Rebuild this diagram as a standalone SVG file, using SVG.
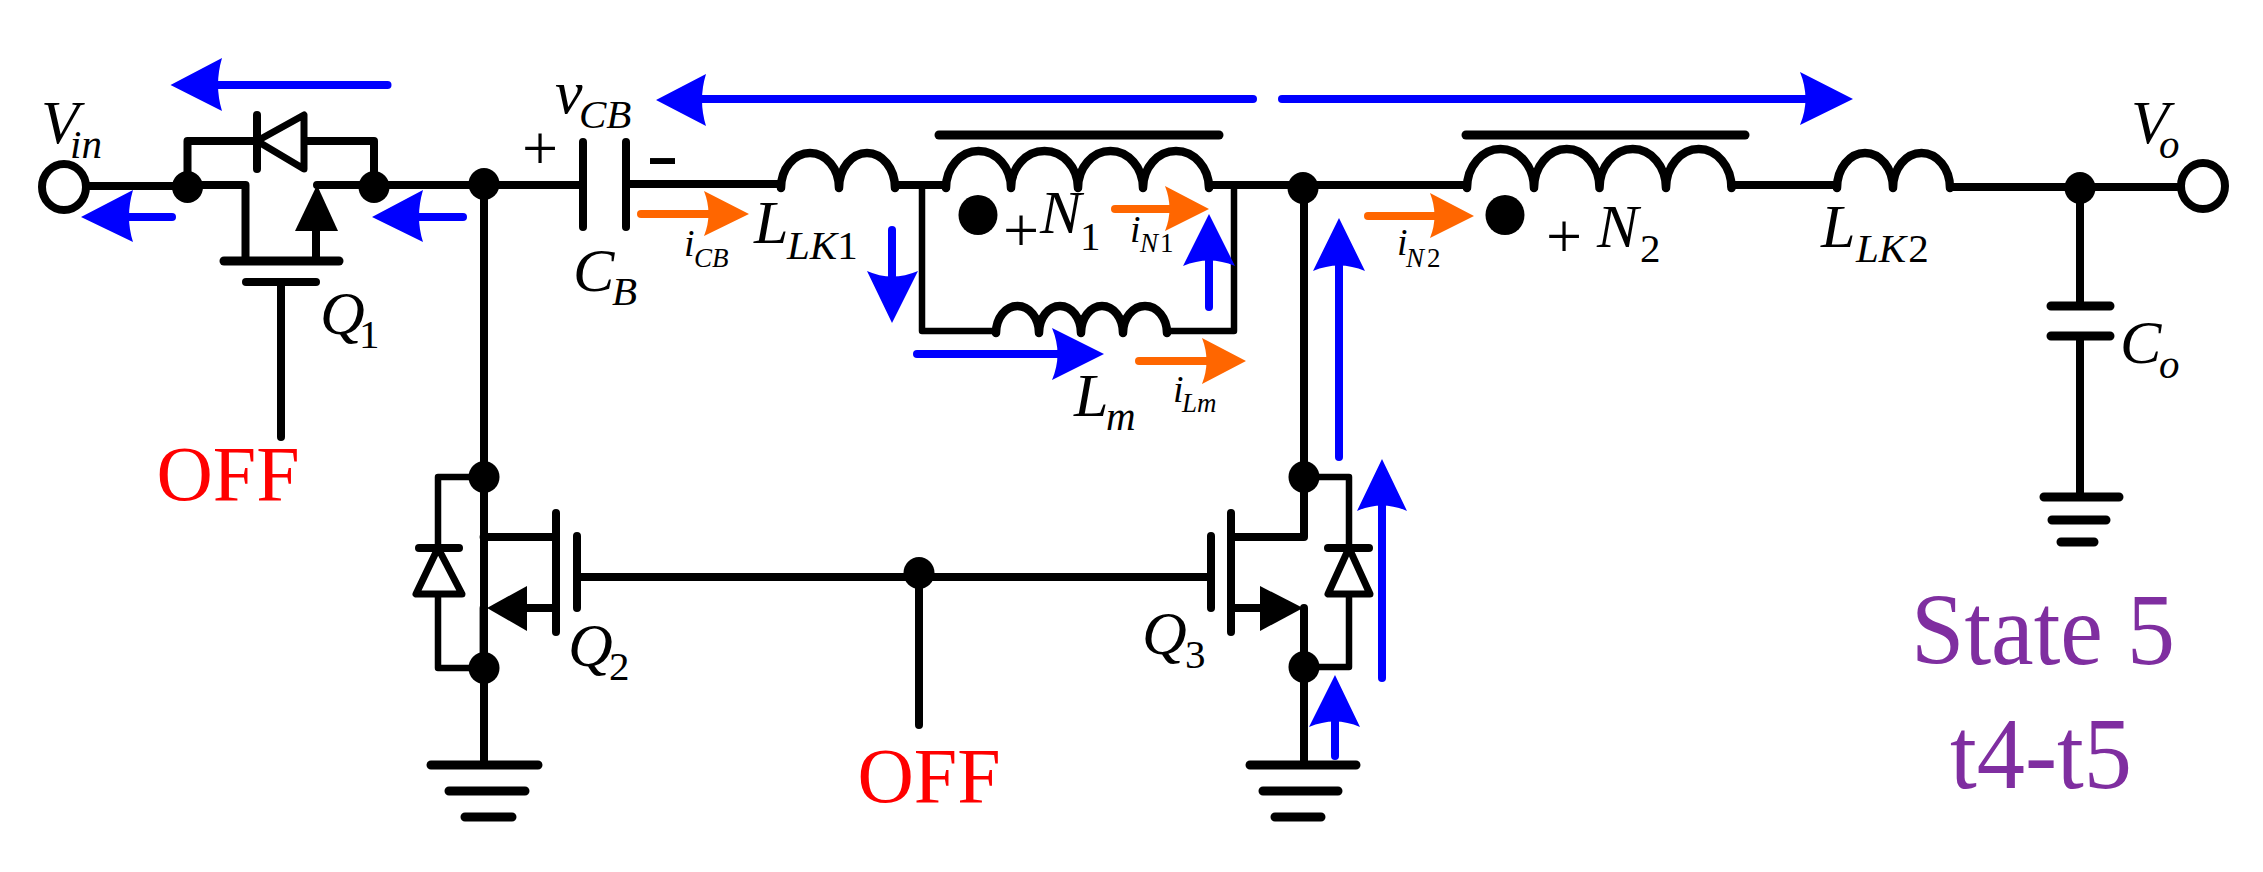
<svg xmlns="http://www.w3.org/2000/svg" width="2263" height="872" viewBox="0 0 2263 872">
<style>
text{font-family:"Liberation Serif","Times New Roman",serif;fill:#000}
.w{fill:none;stroke:#000;stroke-width:8;stroke-linecap:round;stroke-linejoin:round}
.t{fill:none;stroke:#000;stroke-width:6.500;stroke-linecap:round;stroke-linejoin:round}
.b{fill:none;stroke:#000;stroke-width:9;stroke-linecap:round}
.c{fill:none;stroke:#000;stroke-width:8.500;stroke-linecap:round;stroke-linejoin:round}
.d{fill:#fff;stroke:#000;stroke-width:7;stroke-linejoin:round}
.k{fill:#000}
.port{fill:#fff;stroke:#000;stroke-width:8}
.bl{stroke:#00f;stroke-width:8;stroke-linecap:round;fill:none}
.or{stroke:#f60;stroke-width:8;stroke-linecap:round;fill:none}
.bh{fill:#00f}.oh{fill:#f60}
.m{font-size:62px;font-style:italic}
.s{font-size:41px;font-style:italic}
.n{font-size:41px;font-style:normal}
.i{font-size:38px;font-style:italic}
.si{font-size:27px;font-style:italic}
.ni{font-size:27px;font-style:normal}
.p{font-size:64px}
.off{font-size:78px;fill:#f00}
text.st{font-size:101px;fill:#7f2ea0}
</style>
<g id="connectors">
<path class="w" d="M88 186H187.500M187.500 185H245.500V261M374 185H317M374 185H484H583M484 184V668V765"/>
<path class="w" d="M187.500 187V141H257M304 141H374V187"/>
<path class="w" d="M316 231V261M281 282V437"/>
<path class="w" d="M626 184H781M895 185H946M1209 185H1303M1467 185H1303M1731 185H1837M1950 187H2177"/>
<path class="t" d="M922 185V331H996M1167 331H1234V185"/>
<path class="w" d="M483.600 537H556M483.600 608V668"/>
<path class="t" d="M483.600 477H438V668H483.600"/>
<path class="w" d="M577 577H1211M919 573V725"/>
<path class="w" d="M1304 188V537H1231M1304 608V765"/>
<path class="t" d="M1304 477H1349V667H1304"/>
<path class="w" d="M1231 608H1262M527 608H556"/>
<path class="w" d="M2080 188V306M2080 336V497"/>
</g>
<g id="Vin"><ellipse class="port" cx="64" cy="187" rx="22" ry="23"/><text class="m" x="41" y="143">V<tspan class="s" x="70" y="158">in</tspan></text></g>
<g id="Vo"><ellipse class="port" cx="2203" cy="186" rx="22" ry="23"/><text class="m" x="2131" y="143">V<tspan class="s" x="2159" y="158">o</tspan></text></g>
<g id="junctions">
<ellipse class="k" cx="187.500" cy="187" rx="15.500" ry="16"/>
<ellipse class="k" cx="374" cy="187" rx="15.500" ry="16"/>
<ellipse class="k" cx="484" cy="184" rx="15.500" ry="16"/>
<ellipse class="k" cx="484" cy="477" rx="15.500" ry="16"/>
<ellipse class="k" cx="484" cy="668" rx="15.500" ry="16"/>
<ellipse class="k" cx="919" cy="573" rx="15.500" ry="16"/>
<ellipse class="k" cx="1303" cy="188" rx="15.500" ry="16"/>
<ellipse class="k" cx="1304" cy="477" rx="15.500" ry="16"/>
<ellipse class="k" cx="1304" cy="667" rx="15.500" ry="16"/>
<ellipse class="k" cx="2080" cy="188" rx="15.500" ry="16"/>
</g>
<g id="Q1">
<path class="d" d="M304 115V169L257 141Z"/><path class="w" d="M257 115V169"/>
<path class="k" d="M317 185L338 231H295Z"/>
<path class="b" d="M224 261H339"/><path class="w" d="M246 282H316"/>
<text class="m" x="320" y="334">Q<tspan class="n" x="359" y="348">1</tspan></text>
</g>
<g id="CB">
<path class="w" d="M583 142V227M626 142V227"/>
<text class="p" x="540" y="170" text-anchor="middle">+</text>
<text x="646.500" y="178" font-size="70" font-weight="bold" textLength="32" lengthAdjust="spacingAndGlyphs">-</text>
<text class="m" x="555" y="113">v<tspan class="s" x="579" y="128">CB</tspan></text>
<text class="m" x="573" y="291">C<tspan class="s" x="612" y="305">B</tspan></text>
</g>
<g id="LK1">
<path class="c" d="M781 188A29 35 0 0 1 839 188A28 35 0 0 1 895 188"/>
<text class="m" x="754" y="243">L<tspan class="s" x="787" y="259">LK</tspan><tspan class="n">1</tspan></text>
</g>
<g id="N1">
<path class="b" d="M939 135H1219"/>
<path class="c" d="M946 188A32.500 37 0 0 1 1011 188A33.500 37 0 0 1 1078 188A32.500 37 0 0 1 1143 188A33 37 0 0 1 1209 188"/>
<ellipse class="k" cx="978" cy="215" rx="19.500" ry="20"/>
<text class="p" x="1021" y="252" text-anchor="middle">+</text>
<text class="m" x="1040" y="233">N<tspan class="n" x="1080" y="250">1</tspan></text>
</g>
<g id="Lm">
<path class="c" d="M996 333A21.500 27 0 0 1 1039 333A21 27 0 0 1 1081 333A21 27 0 0 1 1123 333A22 27 0 0 1 1167 333"/>
<text class="m" x="1074" y="416">L<tspan class="s" x="1106" y="430">m</tspan></text>
</g>
<g id="N2">
<path class="b" d="M1466 135H1745"/>
<path class="c" d="M1467 188A33.500 39 0 0 1 1534 188A32.750 39 0 0 1 1599.500 188A33.250 39 0 0 1 1666 188A32.750 39 0 0 1 1731.500 188"/>
<ellipse class="k" cx="1505" cy="215" rx="19.500" ry="20"/>
<text class="p" x="1564" y="258" text-anchor="middle">+</text>
<text class="m" x="1597" y="247">N<tspan class="n" x="1640" y="262">2</tspan></text>
</g>
<g id="LK2">
<path class="c" d="M1837 188A28 35 0 0 1 1893 188A28.500 35 0 0 1 1950 188"/>
<text class="m" x="1821" y="247">L<tspan class="s" x="1856" y="262">LK</tspan><tspan class="n" dx="2">2</tspan></text>
</g>
<g id="Co">
<path class="b" d="M2051 306H2110M2051 336H2110"/>
<text class="m" x="2120" y="363">C<tspan class="s" x="2159" y="378">o</tspan></text>
</g>
<g id="GND-Co"><path class="b" d="M2044 497H2119M2052 520H2106M2061 542H2094"/></g>
<g id="Q2">
<path class="d" d="M416 594H462L438 548Z"/><path class="w" d="M419 548H459"/>
<path class="k" d="M487 608L527 586V631Z"/>
<path class="w" d="M556 513V632M577 536V608"/>
<text class="m" x="568" y="666">Q<tspan class="n" x="609" y="680">2</tspan></text>
</g>
<g id="GND-Q2"><path class="b" d="M431 765H538M449 791H525M465 817H512"/></g>
<g id="Q3">
<path class="d" d="M1328 594H1370L1349 548Z"/><path class="w" d="M1328 548H1369"/>
<path class="k" d="M1303 608L1260 586V631Z"/>
<path class="w" d="M1231 513V632M1211 536V608"/>
<text class="m" x="1142" y="654">Q<tspan class="n" x="1185" y="668">3</tspan></text>
</g>
<g id="GND-Q3"><path class="b" d="M1250 765H1356M1263 791H1338M1275 817H1321"/></g>
<g id="flow-blue">
<path class="bl" d="M216 85H387.500"/><path class="bh" d="M170.500 85L222 58Q214 85 222 111Z"/>
<path class="bl" d="M128 217H172"/><path class="bh" d="M81 217L133 190Q125 217 133 242Z"/>
<path class="bl" d="M418 217H463"/><path class="bh" d="M372 217L423 190Q415 217 423 242Z"/>
<path class="bl" d="M700 99H1253"/><path class="bh" d="M656 100L706 74Q698 100 706 126Z"/>
<path class="bl" d="M1282 99H1805"/><path class="bh" d="M1853 99L1800 72Q1811 99 1800 125Z"/>
<path class="bl" d="M892 230V276" stroke-width="7"/><path class="bh" d="M892 323L867 271Q892 282 918 271Z"/>
<path class="bl" d="M1209 261V307" stroke-width="7"/><path class="bh" d="M1209 214L1183 266Q1209 255 1235 266Z"/>
<path class="bl" d="M917 354H1058"/><path class="bh" d="M1104 354L1052 328Q1063 354 1052 380Z"/>
<path class="bl" d="M1339 266V457" stroke-width="6"/><path class="bh" d="M1339 218L1313 271Q1339 260 1365 271Z"/>
<path class="bl" d="M1382 506V678" stroke-width="6"/><path class="bh" d="M1382 459L1357 511Q1382 500 1407 511Z"/>
<path class="bl" d="M1335 722V756" stroke-width="7"/><path class="bh" d="M1335 675L1309 727Q1335 716 1360 727Z"/>
</g>
<g id="flow-orange">
<path class="or" d="M641 214H710"/><path class="oh" d="M749 214L704 191Q713 214 704 236Z"/>
<path class="or" d="M1115 209H1170"/><path class="oh" d="M1209 209L1165 186Q1174 209 1165 231Z"/>
<path class="or" d="M1139 361H1207"/><path class="oh" d="M1246 361L1202 338Q1211 361 1202 384Z"/>
<path class="or" d="M1368 216H1435"/><path class="oh" d="M1474 216L1430 193Q1439 216 1430 238Z"/>
<text class="i" x="684" y="256">i<tspan class="si" x="694" y="267">CB</tspan></text>
<text class="i" x="1130" y="242">i<tspan class="si" x="1140" y="252">N</tspan><tspan class="ni" dx="2">1</tspan></text>
<text class="i" x="1173" y="402">i<tspan class="si" x="1182" y="412">Lm</tspan></text>
<text class="i" x="1397" y="255">i<tspan class="si" x="1406" y="267">N</tspan><tspan class="ni" dx="3">2</tspan></text>
</g>
<g id="labels">
<text class="off" x="228" y="500" text-anchor="middle">OFF</text>
<text class="off" x="929" y="802" text-anchor="middle">OFF</text>
<text class="st" x="1911" y="664" textLength="264" lengthAdjust="spacingAndGlyphs">State 5</text>
<text class="st" x="1950" y="788" textLength="182" lengthAdjust="spacingAndGlyphs">t4-t5</text>
</g>
</svg>
